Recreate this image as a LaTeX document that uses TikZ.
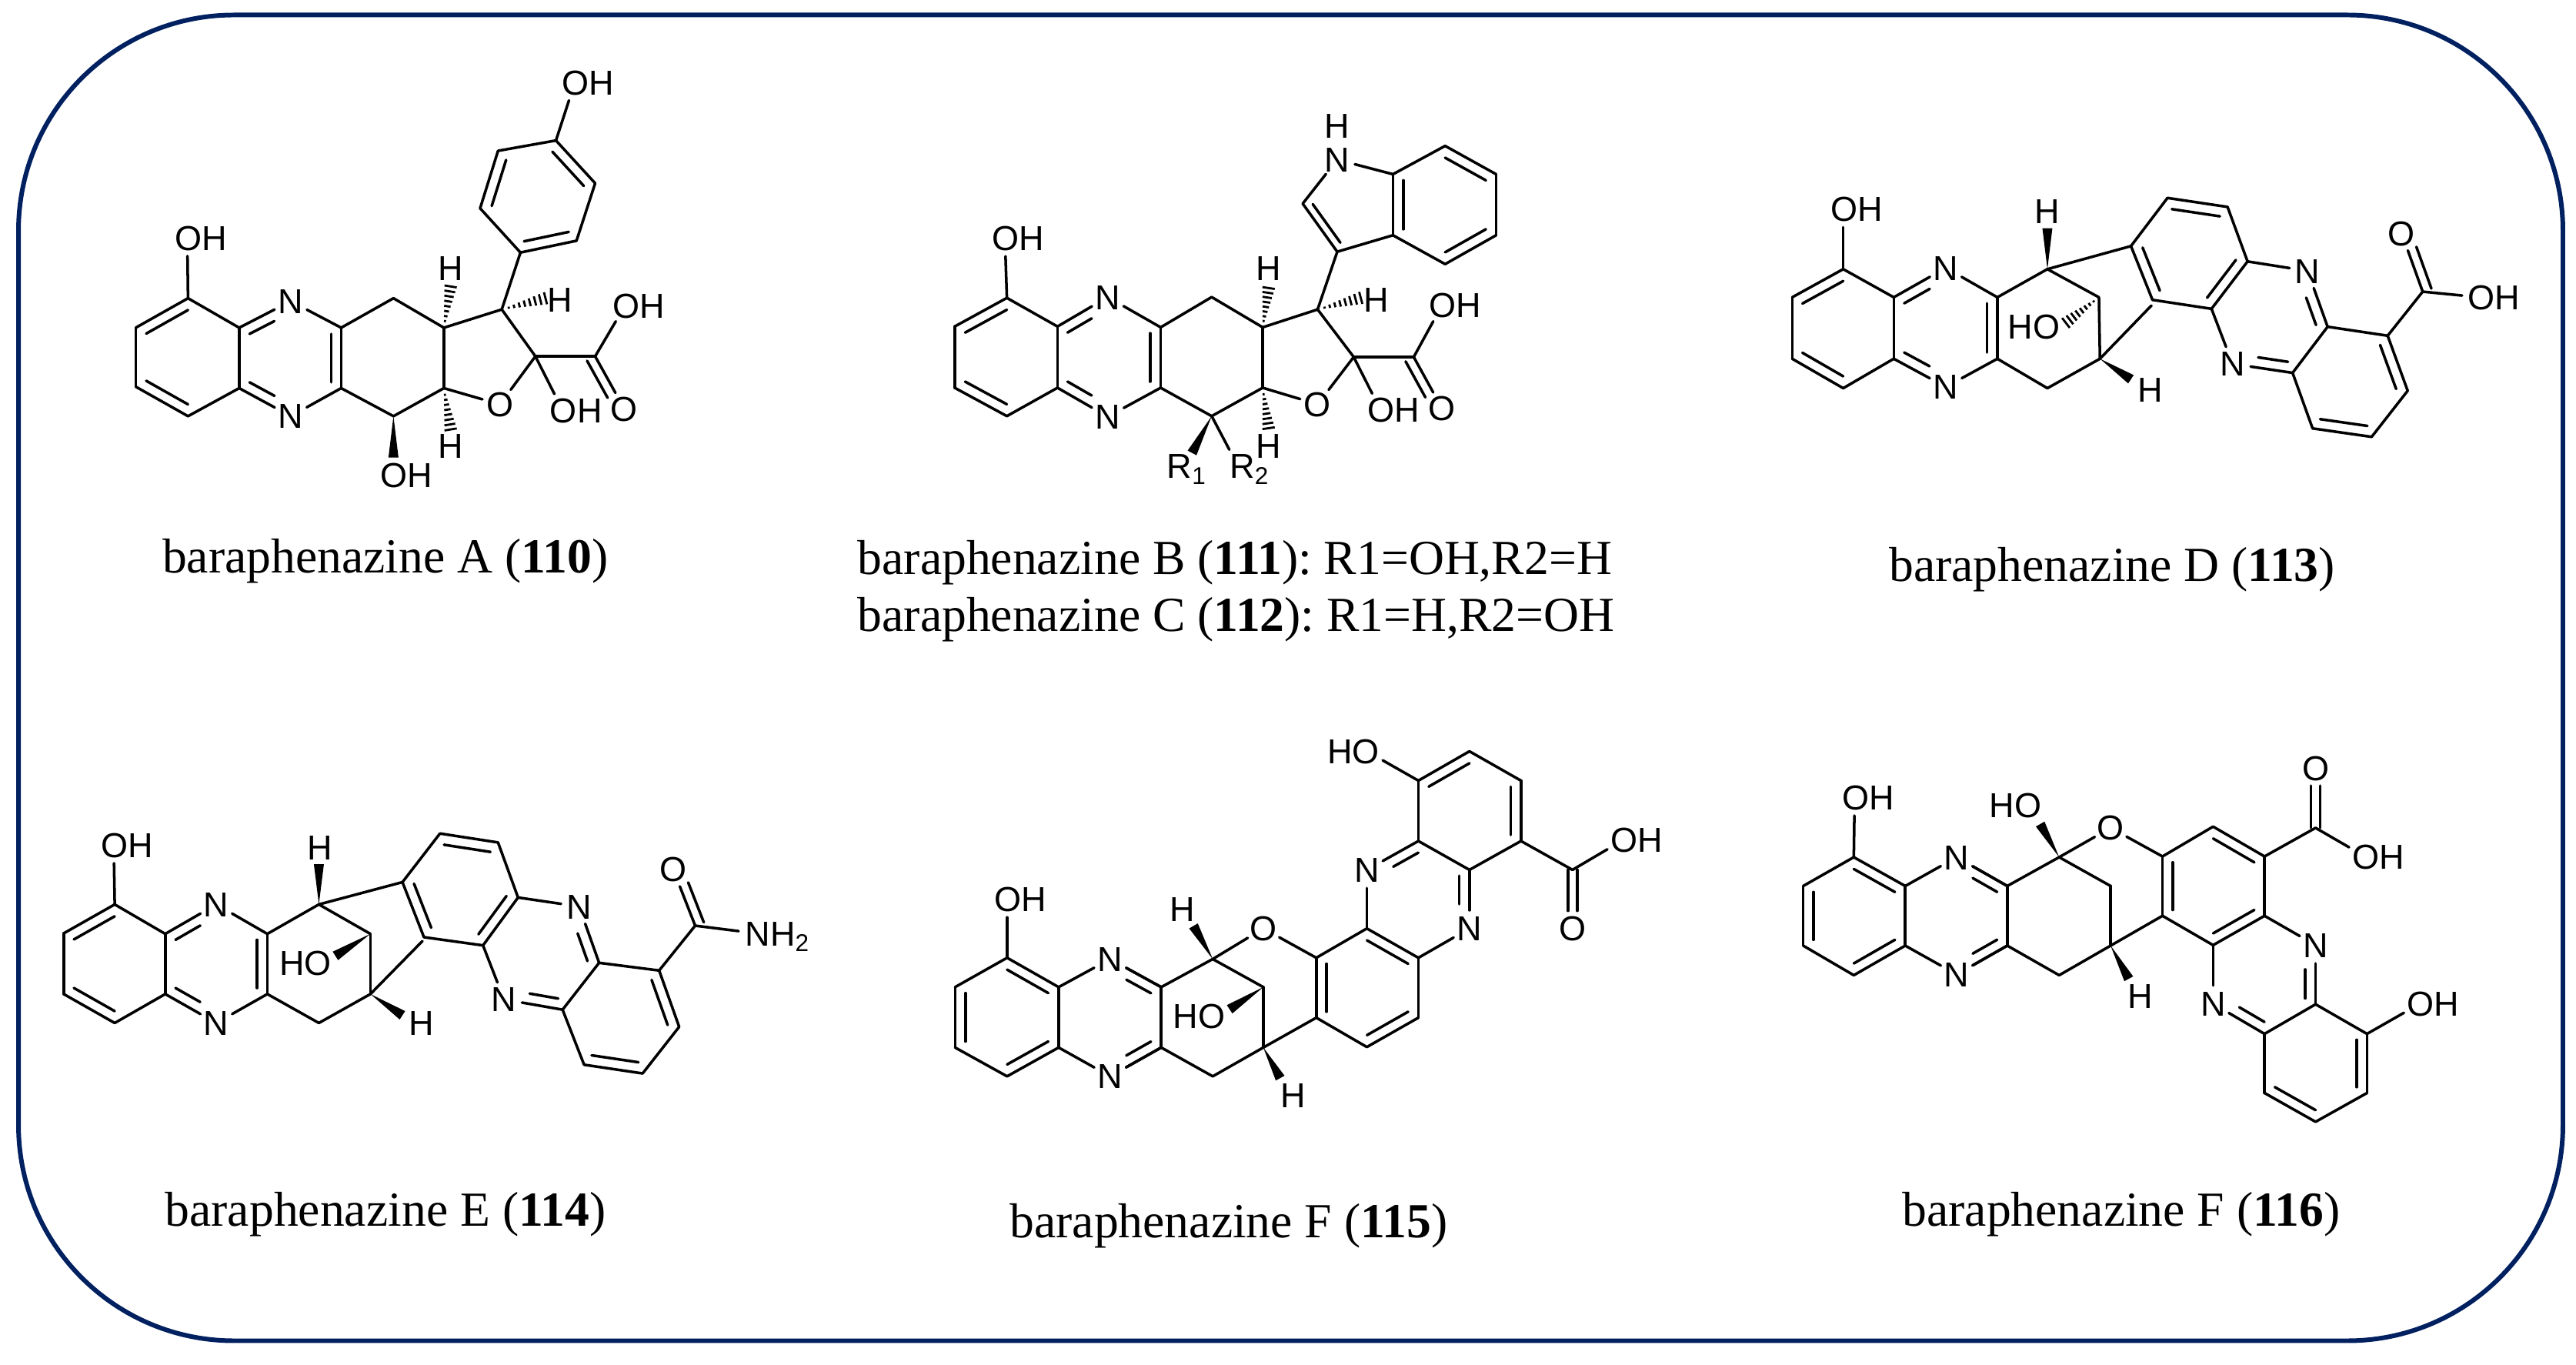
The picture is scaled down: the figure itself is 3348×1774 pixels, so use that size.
\documentclass[tikz,border=0pt]{standalone}
\usepackage{fontspec}
\setmainfont{Liberation Serif}
\newfontfamily\chemfont{Liberation Sans}
\usetikzlibrary{calc}
\definecolor{framecol}{HTML}{002060}
\frenchspacing
\tikzset{
  bond/.style={line width=1pt,line cap=round,line join=round,black},
  hbond/.style={line width=.8pt,black},
  het/.style={circle,inner sep=0pt,minimum size=.46cm},
  lab/.style={inner sep=0pt,font=\chemfont\fontsize{12.8}{14}\selectfont,text=black},
  capt/.style={inner sep=0pt,font=\fontsize{18.1}{20}\selectfont,text=black},
}
\newcommand\coords[1]{\foreach \nm/\xx/\yy in {#1} {\coordinate (\nm) at (\xx,\yy);}}
\newcommand\bonds[1]{\foreach \ba/\bb in {#1} {\draw[bond] (\ba)--(\bb);}}
% double bond in a ring: main bond + inner line scaled toward ring centre
\newcommand\dbl[1]{\foreach \ba/\bb/\bc in {#1} {\draw[bond] (\ba)--(\bb);
  \draw[bond] ($(\bc)!.8!(\ba)$)--($(\bc)!.8!(\bb)$);}}
% same, second atom is a labelled hetero atom
\newcommand\dbn[1]{\foreach \ba/\bb/\bc in {#1} {\draw[bond] (\ba)--(\bb);
  \draw[bond,shorten >=.24cm] ($(\bc)!.8!(\ba)$)--($(\bc)!.8!(\bb)$);}}
% C=O: main bond + offset line
\newcommand\cdo[3]{\draw[bond] (#1)--(#2);
  \draw[bond,shorten >=.23cm] ($(#1)!#3!90:(#2)$)--($(#2)!#3!-90:(#1)$);}
% C=O: two symmetric lines
\newcommand\cds[2]{\draw[bond,shorten >=.23cm] ($(#1)!.06cm!90:(#2)$)--($(#2)!.06cm!-90:(#1)$);
  \draw[bond,shorten >=.23cm] ($(#1)!-.06cm!90:(#2)$)--($(#2)!-.06cm!-90:(#1)$);}
\newcommand\wdg[2]{\fill[black] ($(#2)!.065cm!90:(#1)$)--(#1)--($(#2)!.065cm!-90:(#1)$)--cycle;}
\newcommand\hsh[2]{\foreach \hf in {.16,.28,.40,.52,.64,.76,.88,1} {\pgfmathsetmacro\hw{\hf*2.3}
  \draw[hbond] ($(#1)!\hf!(#2)!\hw pt!90:(#1)$)--($(#1)!\hf!(#2)!\hw pt!-90:(#1)$);}}
% labelled atoms; (x,y) is the centre of the atom letter that carries the bond
\newcommand\atm[4]{\node[het] (#1) at (#2,#3) {}; \node[lab,anchor=base,yshift=-.16cm] (#1t) at (#1.center) {#4};}
\newcommand\oh[3]{\node[het] (#1) at (#2,#3) {}; \node[lab,anchor=base west,xshift=-.17cm,yshift=-.16cm] (#1t) at (#1.center) {OH};}
\newcommand\ho[3]{\node[het] (#1) at (#2,#3) {}; \node[lab,anchor=base east,xshift=.17cm,yshift=-.16cm] (#1t) at (#1.center) {HO};}
% shared phenazine-type tricycle
\newcommand\rings{\coordinate (r1) at ($(c1)!.5!(c4)$); \coordinate (r2) at ($(Nt)!.5!(Nb)$);
  \bonds{c7/c9,c9/c10,c10/c11,c11/c12,c12/c8,Nt/c7,Nb/c8,c1/O1}}
\newcommand\triA{\rings \dbl{c1/c2/r1,c3/c4/r1,c7/c8/r2} \dbn{c6/Nt/r2,c5/Nb/r2}
  \bonds{c2/c3,c4/c5,c5/c6,c6/c1}}
\newcommand\triB{\rings \dbl{c1/c6/r1,c2/c3/r1,c4/c5/r1} \dbn{c7/Nt/r2,c8/Nb/r2}
  \bonds{c1/c2,c3/c4,c5/c6,c6/Nt,c5/Nb,c7/c8}}
\begin{document}
\begin{tikzpicture}[x=.01cm,y=-.01cm]
\useasboundingbox (0,0) rectangle (3348,1774);
\node[draw=framecol,line width=1.7pt,rounded corners=2.8cm,minimum width=33.05cm,minimum height=17.22cm,inner sep=0pt] (frame) at (1677.5,881) {};

% ---------- 110
\begin{scope}[shift={(140,60)},x=.004847cm,y=-.003827cm]
\coords{c1/215/855,c2/75/955,c3/75/1155,c4/215/1255,c5/352/1160,c6/352/955,c7/625/955,c8/625/1160,c9/765/855,c10/900/955,c11/900/1160,c12/765/1255,c13/1055/893,c14/1145/1052,k/1305/1052,a1/1105/700,a2/1255/660,a3/1305/465,a4/1200/320,a5/1045/355,a6/997/550,w1/918/815,w2/918/1300,w3/1172/855,w4/765/1395}
\atm{Nt}{490}{865}{N}\atm{Nb}{490}{1255}{N}\atm{Ox}{1050}{1215}{O}\atm{Oc}{1383}{1230}{O}
\oh{O1}{213}{650}\oh{O2}{763}{1455}\oh{O3}{1385}{880}\oh{O4}{1218}{1235}\oh{O5}{1250}{125}
\atm{H1}{918}{752}{H}\atm{H2}{918}{1355}{H}\atm{H3}{1210}{860}{H}
\triA
\bonds{c10/c13,c13/c14,c14/Ox,c11/Ox,c14/k,k/O3,c14/O4,c13/a1,a2/a3,a4/a5,a6/a1,a4/O5}
\coordinate (ra) at ($(a1)!.5!(a4)$);
\dbl{a1/a2/ra,a3/a4/ra,a5/a6/ra}
\cdo{k}{Oc}{-.12cm}
\hsh{c10}{w1}\hsh{c11}{w2}\hsh{c13}{w3}\wdg{c12}{w4}
\end{scope}
\node[capt,anchor=base] (t110) at (501,745) {baraphenazine A (\textbf{110})};

% ---------- 111 / 112
\begin{scope}[shift={(1200,120)},x=.005102cm,y=-.003571cm]
\coords{c1/213/748,c2/80/852,c3/80/1075,c4/213/1178,c5/342/1075,c6/342/852,c7/605/855,c8/605/1075,c9/735/745,c10/865/855,c11/865/1075,c12/735/1178,c13/1005/790,c14/1097/963,k/1250/963,i3/1055/580,i2/967/405,i7/1197/298,i4/1197/520,b1/1330/195,b2/1460/298,b3/1460/520,b4/1330/625,w1/880/712,w2/880/1222,w3/1115/748,w4/685/1312,w5/780/1300}
\atm{Nt}{470}{745}{N}\atm{Nb}{470}{1180}{N}\atm{Ox}{1005}{1135}{O}\atm{Oc}{1322}{1150}{O}\atm{Ni}{1055}{245}{N}
\oh{O1}{208}{530}\oh{O3}{1322}{775}\oh{O4}{1165}{1155}
\atm{H1}{880}{640}{H}\atm{H2}{880}{1285}{H}\atm{H3}{1155}{755}{H}\atm{H4}{1055}{122}{H}
\triA
\bonds{c10/c13,c13/c14,c14/Ox,c11/Ox,c14/k,k/O3,c14/O4,c13/i3,i2/Ni,Ni/i7,i4/i3,i7/b1,b2/b3,b4/i4,c12/w5}
\coordinate (rp) at (1095,415); \coordinate (rb) at ($(b1)!.5!(b4)$);
\dbl{i3/i2/rp,i7/i4/rb,b1/b2/rb,b3/b4/rb}
\cdo{k}{Oc}{-.12cm}
\hsh{c10}{w1}\hsh{c11}{w2}\hsh{c13}{w3}\wdg{c12}{w4}
\node[lab,anchor=base west] (Rone) at (620,1405) {R\textsubscript{1}};
\node[lab,anchor=base west] (Rtwo) at (780,1405) {R\textsubscript{2}};
\end{scope}
\node[capt,anchor=base west] (t111) at (1114,747) {baraphenazine B (\textbf{111}): R1=OH,R2=H};
\node[capt,anchor=base west] (t112) at (1114,821) {baraphenazine C (\textbf{112}): R1=H,R2=OH};

% ---------- 113
\begin{scope}[shift={(2300,220)},x=.006505cm,y=-.003333cm]
\coords{c1/147/390,c2/45/500,c3/45/740,c4/147/855,c5/248/740,c6/248/500,c7/455/500,c8/455/740,c9/555/390,c10/658/500,c11/660/740,c12/555/855,a1/722/300,a2/795/112,a3/915/147,a4/955/360,a5/883/545,a6/765/510,g/763/532,p1/1115/615,p2/1045/795,q1/1235/650,q2/1275/865,q3/1203/1045,q4/1085/1012,k/1305/478,w1/555/230,w2/722/820,w3/592/600}
\atm{Nt}{352}{385}{N}\atm{Nb}{352}{850}{N}\atm{N1}{1075}{397}{N}\atm{N2}{925}{760}{N}\atm{Oc}{1263}{250}{O}
\oh{O1}{147}{155}\oh{O3}{1420}{500}\ho{O4}{555}{615}
\atm{H1}{555}{165}{H}\atm{H2}{760}{862}{H}
\triA
\bonds{c9/a1,c11/g,a1/a2,a3/a4,a5/a6,a4/N1,a5/N2,p1/p2,p1/q1,q2/q3,q4/p2,q1/k,k/O3}
\coordinate (ra) at ($(a1)!.5!(a4)$); \coordinate (rb) at ($(a5)!.5!(p1)$); \coordinate (rc) at ($(q1)!.5!(q4)$);
\dbl{a1/a6/ra,a2/a3/ra,a4/a5/ra,q1/q2/rc,q3/q4/rc}
\dbn{p1/N1/rb,p2/N2/rb}
\cdo{k}{Oc}{-.12cm}
\wdg{c9}{w1}\wdg{c11}{w2}\hsh{c10}{w3}
\end{scope}
\node[capt,anchor=base] (t113) at (2745,756) {baraphenazine D (\textbf{113})};

% ---------- 114
\begin{scope}[shift={(60,1030)},x=.006505cm,y=-.003333cm]
\coords{c1/137/437,c2/35/550,c3/35/787,c4/137/900,c5/238/787,c6/238/552,c7/442/552,c8/442/787,c9/545/437,c10/648/552,c11/648/787,c12/545/900,a1/712/350,a2/787/160,a3/903/195,a4/943/410,a5/873/597,a6/755/565,g/752/580,p1/1105/665,p2/1032/848,q1/1225/695,q2/1265/915,q3/1192/1097,q4/1075/1063,k/1297/520,w1/545/280,w2/712/870,w3/578/638}
\atm{Nt}{340}{437}{N}\atm{Nb}{340}{900}{N}\atm{N1}{1065}{445}{N}\atm{N2}{915}{808}{N}\atm{Oc}{1253}{300}{O}
\oh{O1}{135}{205}\ho{O4}{545}{665}
\node[het] (Na) at (1420,550) {};
\node[lab,anchor=base west,xshift=-.157cm,yshift=-.16cm] (Nat) at (Na.center) {NH\textsubscript{2}};
\atm{H1}{547}{215}{H}\atm{H2}{750}{900}{H}
\triA
\bonds{c9/a1,c11/g,a1/a2,a3/a4,a5/a6,a4/N1,a5/N2,p1/p2,p1/q1,q2/q3,q4/p2,q1/k,k/Na}
\coordinate (ra) at ($(a1)!.5!(a4)$); \coordinate (rb) at ($(a5)!.5!(p1)$); \coordinate (rc) at ($(q1)!.5!(q4)$);
\dbl{a1/a6/ra,a2/a3/ra,a4/a5/ra,q1/q2/rc,q3/q4/rc}
\dbn{p1/N1/rb,p2/N2/rb}
\cdo{k}{Oc}{-.12cm}
\wdg{c9}{w1}\wdg{c11}{w2}\wdg{c10}{w3}
\end{scope}
\node[capt,anchor=base] (t114) at (501,1593) {baraphenazine E (\textbf{114})};

% ---------- 115
\begin{scope}[shift={(1210,940)},x=.00625cm,y=-.003317cm]
\coords{c1/158/920,c2/50/1035,c3/50/1272,c4/158/1385,c5/265/1272,c6/265/1035,c7/478/1035,c8/478/1272,c9/585/925,c10/690/1035,c11/690/1272,c12/585/1385,a1/800/920,a2/905/805,a3/1012/920,a4/1012/1155,a5/905/1270,a6/800/1155,p1/1012/462,p2/1118/575,u1/1012/225,u2/1118/110,u3/1225/225,u4/1225/462,k/1332/575,w1/545/795,w2/725/1392,w3/620/1122}
\atm{Nt}{372}{925}{N}\atm{Nb}{372}{1385}{N}\atm{Ox}{690}{805}{O}\atm{N1}{905}{575}{N}\atm{N2}{1118}{805}{N}\atm{Oc}{1332}{805}{O}
\oh{O1}{158}{690}\oh{O3}{1437}{458}\ho{O4}{585}{1150}\ho{O5}{905}{110}
\atm{H1}{522}{730}{H}\atm{H2}{752}{1460}{H}
\triB
\bonds{c9/Ox,Ox/a1,c11/a6,a1/a2,a3/a4,a5/a6,a2/N1,a3/N2,p1/p2,p1/u1,u2/u3,u4/p2,u4/k,k/O3,u1/O5}
\coordinate (ra) at ($(a1)!.5!(a4)$); \coordinate (rb) at ($(N1)!.5!(N2)$); \coordinate (rc) at ($(u1)!.5!(u4)$);
\dbl{a1/a6/ra,a2/a3/ra,a4/a5/ra,u1/u2/rc,u3/u4/rc}
\dbn{p1/N1/rb,p2/N2/rb}
\cds{k}{Oc}
\wdg{c9}{w1}\wdg{c11}{w2}\wdg{c10}{w3}
\end{scope}
\node[capt,anchor=base] (t115) at (1597,1608) {baraphenazine F (\textbf{115})};

% ---------- 116
\begin{scope}[shift={(2320,960)},x=.005485cm,y=-.003317cm]
\coords{c1/163/465,c2/43/578,c3/43/812,c4/163/928,c5/285/812,c6/285/578,c7/527/578,c8/527/812,c9/650/465,c10/772/578,c11/772/812,c12/650/928,a1/895/462,a2/1015/345,a3/1137/462,a4/1137/695,a5/1015/810,a6/895/695,p1/1258/1042,p2/1137/1158,s1/1380/1158,s2/1380/1390,s3/1258/1503,s4/1137/1390,k/1258/350,w1/605/335,w2/815/942}
\atm{Nt}{407}{465}{N}\atm{Nb}{407}{925}{N}\atm{Ox}{772}{350}{O}\atm{N1}{1258}{810}{N}\atm{N2}{1015}{1040}{N}\atm{Oc}{1258}{115}{O}
\oh{O1}{165}{230}\oh{O3}{1375}{462}\oh{O6}{1505}{1040}\ho{O4}{578}{262}
\atm{H2}{842}{1010}{H}
\triB
\bonds{c9/Ox,Ox/a1,c11/a6,a1/a2,a3/a4,a5/a6,a4/N1,a5/N2,p1/p2,p1/s1,s2/s3,s4/p2,a3/k,k/O3,s1/O6}
\coordinate (ra) at ($(a1)!.5!(a4)$); \coordinate (rb) at ($(N1)!.5!(N2)$); \coordinate (rc) at ($(s1)!.5!(s4)$);
\dbl{a1/a6/ra,a2/a3/ra,a4/a5/ra,s1/s2/rc,s3/s4/rc}
\dbn{p1/N1/rb,p2/N2/rb}
\cds{k}{Oc}
\wdg{c9}{w1}\wdg{c11}{w2}
\end{scope}
\node[capt,anchor=base] (t116) at (2757,1593) {baraphenazine F (\textbf{116})};
\end{tikzpicture}
\end{document}
